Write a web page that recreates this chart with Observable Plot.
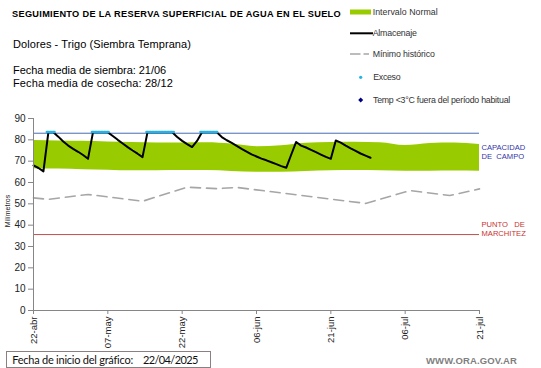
<!DOCTYPE html>
<html><head><meta charset="utf-8">
<script src="https://cdn.jsdelivr.net/npm/d3@7"></script>
<script src="https://cdn.jsdelivr.net/npm/@observablehq/plot@0.6"></script>
<style>
body{margin:0;background:#fff;}
#wrap{position:relative;width:541px;height:368px;overflow:hidden;font-family:"Liberation Sans",Arial,sans-serif;background:#fff;}
.t{position:absolute;white-space:nowrap;line-height:1;color:#000;}
</style></head><body><div id="wrap"></div>
<script>
// ---------- data ----------
const startDate = "2025-04-22";
const tickDates = ["2025-04-22","2025-05-07","2025-05-22","2025-06-06","2025-06-21","2025-07-06","2025-07-21"];
const tickLabels = ["22-abr","07-may","22-may","06-jun","21-jun","06-jul","21-jul"];
const yTicks = [0,10,20,30,40,50,60,70,80,90];

// Intervalo normal (days from start date)
const bandDay  = [0,5,10,15,20,25,30,35,40,45,50,55,60,65,70,75,80,85,90];
const bandLow  = [66.5,66.3,66.0,65.8,65.5,65.5,65.6,65.6,65.2,64.8,64.8,65.2,65.5,65.6,65.5,65.3,65.3,65.4,65.3];
const bandHigh = [79.7,79.5,79.3,79.0,78.7,78.5,78.5,78.6,78.0,76.8,77.2,78.4,78.8,78.9,78.6,77.3,78.3,78.5,77.8];

// Mínimo histórico
const minDay = [0,3,11,22,31,37,41,67,76,84,90];
const minVal = [52.8,52.1,54.4,51.2,57.8,57.1,57.7,50.2,56.2,53.9,57.0];

// Almacenaje (daily)
const almDay = d3.range(0,69);
const almVal = [68,66.8,65.2,83.5,83.5,81.5,79.2,77.3,75.8,74.4,72.9,71.1,
  83.5,83.5,83.5,83.5,81.8,80,78.3,76.6,75,73.5,71.9,
  83.5,83.5,83.5,83.5,83.5,83.5,81.3,79.5,78,76.6,79.5,
  83.5,83.5,83.5,83.5,81.3,79.8,78.6,77.2,75.8,74.5,73.2,72.2,71.2,70.4,69.5,68.6,67.7,66.9,
  73,79,77.3,76.4,75.3,74.2,73.1,72,71.1,79.7,78.7,77.3,76,74.8,73.6,72.6,71.6];

// Exceso periods
const excStart = [2.7,11.8,22.8,33.7];
const excEnd   = [4.4,15.2,28.3,37.3];
const excVal = 83.7;

const capacidadCampo = 83.1;
const puntoMarchitez = 35.6;

// ---------- build ----------
const T0 = Date.parse(startDate + "T00:00:00Z");
const dayToDate = d => new Date(T0 + d * 864e5);
const band = bandDay.map((d,i)=>({date:dayToDate(d), low:bandLow[i], high:bandHigh[i]}));
const minHist = minDay.map((d,i)=>({date:dayToDate(d), value:minVal[i]}));
const alm = almDay.map((d,i)=>({date:dayToDate(d), value:almVal[i]}));
const exc = excStart.flatMap((s,i)=>[{date:dayToDate(s), value:excVal, seg:i},{date:dayToDate(excEnd[i]), value:excVal, seg:i}]);
const tickMap = new Map(tickDates.map((d,i)=>[Date.parse(d+"T00:00:00Z"), tickLabels[i]]));

const svg = Plot.plot({
  width: 541, height: 368,
  marginLeft: 33, marginRight: 62, marginTop: 118, marginBottom: 58,
  style: {fontFamily: '"Liberation Sans", Arial, sans-serif', background: "transparent", position: "absolute", left: "0px", top: "0px", color: "#222", overflow: "visible"},
  x: {type: "utc", domain: [dayToDate(0), dayToDate(90)]},
  y: {domain: [0, 90]},
  marks: [
    Plot.areaY(band, {x: "date", y1: "low", y2: "high", fill: "#99cc00", curve: "monotone-x"}),
    Plot.ruleY([capacidadCampo], {stroke: "#4a6cb3", strokeWidth: 1}),
    Plot.ruleY([puntoMarchitez], {stroke: "#c0504d", strokeWidth: 1}),
    Plot.lineY(minHist, {x: "date", y: "value", stroke: "#a6a6a6", strokeWidth: 1.6, strokeDasharray: "10,6"}),
    Plot.lineY(alm, {x: "date", y: "value", stroke: "#000", strokeWidth: 2, strokeLinejoin: "round"}),
    Plot.lineY(exc, {x: "date", y: "value", z: "seg", stroke: "#22b4e6", strokeWidth: 2.6, strokeDasharray: "1.6,1.4"}),
    Plot.ruleX([dayToDate(0)], {stroke: "#868686"}),
    Plot.ruleY([0], {stroke: "#868686"}),
    Plot.axisY({ticks: yTicks, tickSize: 5, tickPadding: 3, fontSize: 10, stroke: "#868686", fill: "#222", label: null}),
    Plot.axisX({ticks: tickDates.map(d=>new Date(d+"T00:00:00Z")), tickFormat: d => tickMap.get(+d), tickRotate: -90, tickSize: 4, tickPadding: 2, fontSize: 9.5, stroke: "#868686", fill: "#222", label: null}),
    Plot.text([{x: dayToDate(90), y: capacidadCampo}], {x: "x", y: "y", text: () => "CAPACIDAD\nDE\u00a0\u00a0CAMPO", dx: 2, dy: 9.6, textAnchor: "start", lineAnchor: "top", lineHeight: 1.25, fontSize: 7.6, fill: "#3535a8"}),
    Plot.text([{x: dayToDate(90), y: puntoMarchitez}], {x: "x", y: "y", text: () => "PUNTO\u00a0\u00a0 DE\nMARCHITEZ", dx: 2, dy: -14.2, textAnchor: "start", lineAnchor: "top", lineHeight: 1.22, fontSize: 7.6, fill: "#c83232"})
  ]
});
const wrap = document.getElementById("wrap");
wrap.appendChild(svg);

// legend symbols
const ns = "http://www.w3.org/2000/svg";
const lg = document.createElementNS(ns, "svg");
lg.setAttribute("width", 541); lg.setAttribute("height", 368);
lg.style.position = "absolute"; lg.style.left = "0px"; lg.style.top = "0px";
lg.innerHTML = `
<rect x="350" y="9.5" width="21" height="5" fill="#99cc00"/>
<line x1="350" x2="373" y1="33.3" y2="33.3" stroke="#000" stroke-width="2"/>
<line x1="350" x2="360.5" y1="54" y2="54" stroke="#a6a6a6" stroke-width="1.5"/>
<line x1="363.5" x2="369" y1="54" y2="54" stroke="#a6a6a6" stroke-width="1.5"/>
<circle cx="360.7" cy="77.3" r="1.6" fill="#22b4e6"/>
<path d="M360.7,97.5 L363.2,100 L360.7,102.5 L358.2,100 Z" fill="#000080"/>`;
wrap.appendChild(lg);

// texts
const texts = [
  {s: "SEGUIMIENTO DE LA RESERVA SUPERFICIAL DE AGUA EN EL SUELO", x: 12, y: 9.6, fs: 9.2, w: 329, b: true},
  {s: "Dolores - Trigo (Siembra Temprana)", x: 13, y: 39.3, fs: 11, w: 178},
  {s: "Fecha media de siembra: 21/06", x: 13, y: 64.9, fs: 11, w: 153},
  {s: "Fecha media de cosecha: 28/12", x: 13, y: 78.2, fs: 11, w: 160},
  {s: "Intervalo Normal", x: 372.7, y: 8.2, fs: 8.8, w: 65, c: "#333"},
  {s: "Almacenaje", x: 372.7, y: 29.2, fs: 8.8, w: 44, c: "#333"},
  {s: "Mínimo histórico", x: 372.7, y: 49.9, fs: 8.8, w: 62, c: "#333"},
  {s: "Exceso", x: 373.3, y: 73.2, fs: 8.8, w: 27, c: "#333"},
  {s: "Temp <3°C fuera del período habitual", x: 373, y: 95.8, fs: 8.8, w: 137, c: "#333"},
  {s: "WWW.ORA.GOV.AR", x: 426, y: 356.4, fs: 9.5, w: 91, b: true, c: "#7f7f7f"}
];
for (const t of texts) {
  const el = document.createElement("div");
  el.className = "t";
  el.textContent = t.s;
  el.style.left = t.x + "px"; el.style.top = t.y + "px";
  el.style.fontSize = t.fs + "px";
  if (t.b) el.style.fontWeight = "bold";
  if (t.c) el.style.color = t.c;
  el.dataset.w = t.w;
  wrap.appendChild(el);
}
// y label
const yl = document.createElement("div");
yl.className = "t";
yl.textContent = "Milímetros";
yl.style.fontSize = "7px"; yl.style.color = "#222";
yl.style.left = "7px"; yl.style.top = "210.5px";
yl.style.transform = "translate(-50%,-50%) rotate(-90deg)";
wrap.appendChild(yl);

// bottom box
const box = document.createElement("div");
box.style.cssText = "position:absolute;left:6px;top:350.5px;width:205px;height:17px;border:1px solid #8c7f7f;box-sizing:border-box;";
wrap.appendChild(box);
for (const t of [{s: "Fecha de inicio del gráfico:", x: 12.3, w: 120.4}, {s: "22/04/2025", x: 143, w: 54.7}]) {
  const el = document.createElement("div");
  el.className = "t";
  el.textContent = t.s;
  el.style.fontFamily = "Lato, 'Liberation Sans', sans-serif";
  el.style.fontSize = "11px"; el.style.color = "#111";
  el.style.left = t.x + "px"; el.style.top = "353.5px";
  el.dataset.w = t.w;
  wrap.appendChild(el);
}
// fit widths
wrap.querySelectorAll(".t[data-w]").forEach(el => {
  const w = el.getBoundingClientRect().width;
  const n = el.textContent.length;
  el.style.letterSpacing = ((+el.dataset.w - w) / n) + "px";
});
</script>
</body></html>
